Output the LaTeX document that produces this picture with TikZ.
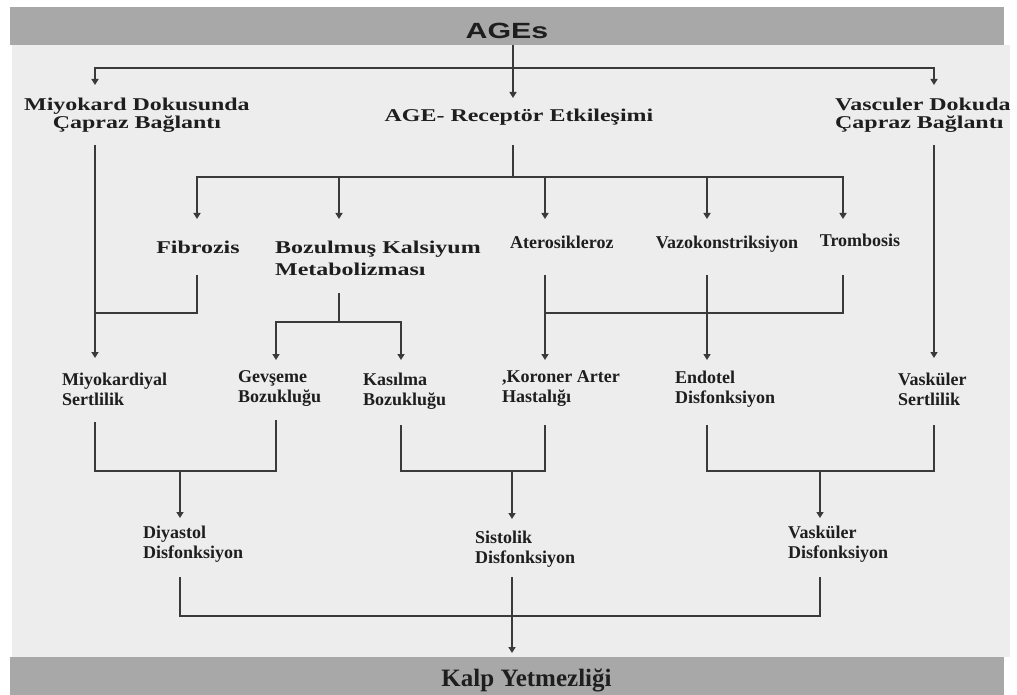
\documentclass[tikz,border=0pt]{standalone}
\usepackage{fontspec}
\setmainfont{Liberation Serif}
\newfontfamily\wideserif[FakeStretch=1.33]{Liberation Serif}
\newfontfamily\widesans[FakeStretch=1.38]{Liberation Sans}
\usetikzlibrary{arrows.meta}
\definecolor{panel}{HTML}{EDEDED}
\definecolor{barc}{HTML}{A8A8A8}
\definecolor{ln}{HTML}{3A3A3A}
\definecolor{txt}{HTML}{1E1E1E}
\begin{document}
\begin{tikzpicture}[x=1pt,y=-1pt,
  line/.style={draw=ln,line width=1.5pt},
  arr/.style={line,-{Triangle[length=6pt,width=7pt]}},
  lbl/.style={font=\fontsize{18}{20}\selectfont\bfseries,text=txt,inner sep=0pt,align=left},
  wlbl/.style={font=\wideserif\fontsize{18}{18}\selectfont\bfseries,text=txt,inner sep=0pt},
  barnode/.style={fill=barc,inner sep=0pt,minimum width=994pt,minimum height=38pt,text=txt}
]
\useasboundingbox (0,0) rectangle (1017,695);
\fill[panel] (12,45) rectangle (1010,657);

% bars
\node[barnode,font=\widesans\fontsize{22}{24}\selectfont\bfseries,text height=28pt,text depth=2pt] (ages) at (507,26) {AGEs};
\node[barnode,font=\fontsize{25}{27}\selectfont\bfseries,text height=22pt,text depth=2pt] (kalp) at (507,676) {\hspace*{39pt}Kalp Yetmezliği};

% row 1
\node[wlbl,align=center] (mdok) at (137,115) {Miyokard Dokusunda\\Çapraz Bağlantı};
\node[wlbl] (rec) at (519,117) {AGE- Receptör Etkileşimi};
\node[wlbl,align=left,anchor=west] (vdok) at (835,115) {Vasculer Dokuda\\Çapraz Bağlantı};

% row 2
\node[wlbl] (fib) at (198,247) {Fibrozis};
\node[wlbl,align=left,anchor=west,font=\wideserif\fontsize{18}{22}\selectfont\bfseries] (boz) at (275,258) {Bozulmuş Kalsiyum\\Metabolizması};
\node[lbl,anchor=west] (ater) at (510,242) {Aterosikleroz};
\node[lbl] (vazo) at (727,244) {Vazokonstriksiyon};
\node[lbl] (trom) at (860,240) {Trombosis};

% row 3
\node[lbl,anchor=west] (msert) at (62,389) {Miyokardiyal\\Sertlilik};
\node[lbl,anchor=west] (gev) at (238,389) {Gevşeme\\Bozukluğu};
\node[lbl,anchor=west] (kas) at (363,391) {Kasılma\\Bozukluğu};
\node[lbl,anchor=west] (kor) at (502,389) {,Koroner Arter\\Hastalığı};
\node[lbl,anchor=west] (endo) at (675,389) {Endotel\\Disfonksiyon};
\node[lbl,anchor=west] (vsert) at (898,389) {Vasküler\\Sertlilik};

% row 4
\node[lbl,anchor=west] (diy) at (143,544) {Diyastol\\Disfonksiyon};
\node[lbl,anchor=west] (sis) at (475,549) {Sistolik\\Disfonksiyon};
\node[lbl,anchor=west] (vdis) at (788,544) {Vasküler\\Disfonksiyon};

% connector points
\coordinate (agesOut) at (513,45);
\coordinate (bus1) at (513,68);
\coordinate (mdokIn) at (95,85);
\coordinate (vdokIn) at (934,85);
\coordinate (recIn) at (513,98);
\coordinate (mdokOut) at (95,145);
\coordinate (msertIn) at (95,358);
\coordinate (vdokOut) at (934,145);
\coordinate (vsertIn) at (934,358);
\coordinate (recOut) at (513,145);
\coordinate (bus2) at (513,177);
\coordinate (fibIn) at (197,219);
\coordinate (bozIn) at (339,219);
\coordinate (aterIn) at (545,219);
\coordinate (vazoIn) at (707,219);
\coordinate (tromIn) at (843,219);
\coordinate (fibOut) at (197,275);
\coordinate (msertJ) at (95,313);
\coordinate (bozOut) at (339,293);
\coordinate (bus3) at (339,322);
\coordinate (gevIn) at (276,360);
\coordinate (kasIn) at (401,360);
\coordinate (aterOut) at (545,275);
\coordinate (korIn) at (545,360);
\coordinate (tromOut) at (843,275);
\coordinate (korJ) at (545,313);
\coordinate (vazoOut) at (707,275);
\coordinate (endIn) at (707,360);
\coordinate (msertOut) at (95,422);
\coordinate (gevOut) at (276,420);
\coordinate (dJ) at (180,471);
\coordinate (diyIn) at (180,518);
\coordinate (kasOut) at (401,425);
\coordinate (korOut) at (545,425);
\coordinate (sJ) at (512,471);
\coordinate (sisIn) at (512,519);
\coordinate (endOut) at (707,425);
\coordinate (vsertOut) at (934,425);
\coordinate (vJ) at (820,471);
\coordinate (vdisIn) at (820,518);
\coordinate (diyOut) at (180,577);
\coordinate (vdisOut) at (820,577);
\coordinate (sisOut) at (512,577);
\coordinate (kJ) at (512,616);
\coordinate (kalpIn) at (512,653);

% connectors
\draw[arr] (agesOut) -- (recIn);
\draw[arr] (bus1) -| (mdokIn);
\draw[arr] (bus1) -| (vdokIn);
\draw[arr] (mdokOut) -- (msertIn);
\draw[arr] (vdokOut) -- (vsertIn);
\draw[line] (recOut) -- (bus2);
\draw[arr] (bus2) -| (fibIn);
\draw[arr] (bus2) -| (bozIn);
\draw[arr] (bus2) -| (aterIn);
\draw[arr] (bus2) -| (vazoIn);
\draw[arr] (bus2) -| (tromIn);
\draw[line] (fibOut) |- (msertJ);
\draw[line] (bozOut) -- (bus3);
\draw[arr] (bus3) -| (gevIn);
\draw[arr] (bus3) -| (kasIn);
\draw[arr] (aterOut) -- (korIn);
\draw[line] (tromOut) |- (korJ);
\draw[arr] (vazoOut) -- (endIn);
\draw[line] (msertOut) -- (msertOut |- dJ) -| (gevOut);
\draw[arr] (dJ) -- (diyIn);
\draw[line] (kasOut) -- (kasOut |- sJ) -| (korOut);
\draw[arr] (sJ) -- (sisIn);
\draw[line] (endOut) -- (endOut |- vJ) -| (vsertOut);
\draw[arr] (vJ) -- (vdisIn);
\draw[line] (diyOut) -- (diyOut |- kJ) -| (vdisOut);
\draw[arr] (sisOut) -- (kalpIn);
\end{tikzpicture}
\end{document}
